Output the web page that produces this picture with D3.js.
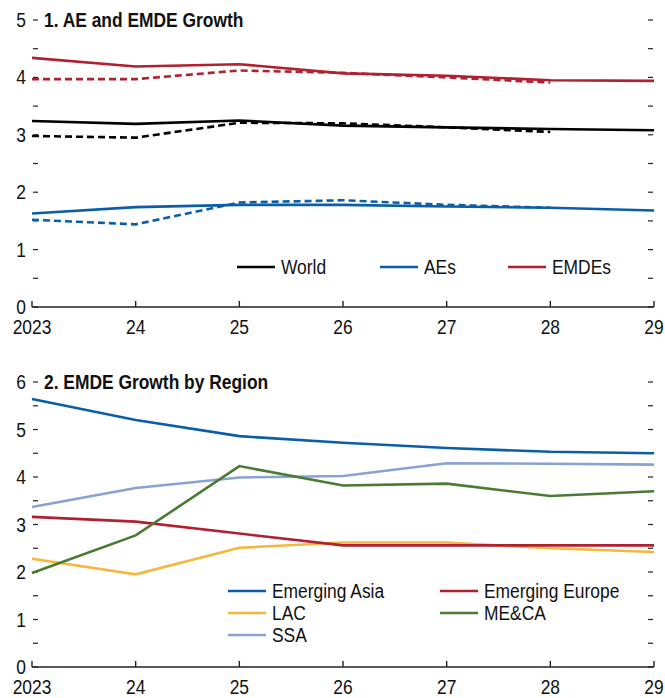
<!DOCTYPE html>
<html>
<head>
<meta charset="utf-8">
<script src="https://cdn.jsdelivr.net/npm/d3@7"></script>
<style>
  body { margin: 0; background: #fff; }
  text { font-family: "Liberation Sans", Arial, sans-serif; fill: #111; }
</style>
</head>
<body>
<div id="chart"></div>
<script>
'use strict';

// years on the x axis
var years = [2023, 2024, 2025, 2026, 2027, 2028, 2029];
var yearLabels = ["2023", "24", "25", "26", "27", "28", "29"];

// panel 1: current (solid) and previous (dashed) projections
var world = [3.24, 3.19, 3.25, 3.16, 3.13, 3.10, 3.08];
var worldPrev = [2.98, 2.95, 3.21, 3.20, 3.13, 3.05];
var aes = [1.63, 1.74, 1.78, 1.78, 1.75, 1.73, 1.68];
var aesPrev = [1.52, 1.44, 1.82, 1.86, 1.78, 1.73];
var emdes = [4.34, 4.19, 4.23, 4.07, 4.03, 3.95, 3.94];
var emdesPrev = [3.97, 3.97, 4.12, 4.08, 4.00, 3.91];

// panel 2: EMDE growth by region
var emAsia = [5.64, 5.20, 4.86, 4.72, 4.61, 4.53, 4.50];
var emEurope = [3.16, 3.06, 2.81, 2.56, 2.56, 2.56, 2.56];
var lac = [2.28, 1.95, 2.51, 2.62, 2.62, 2.50, 2.42];
var mecA = [1.98, 2.77, 4.23, 3.82, 3.86, 3.60, 3.70];
var ssa = [3.37, 3.77, 3.99, 4.02, 4.29, 4.28, 4.26];

var black = "#000000", blue = "#0a5ea8", red = "#b0202f",
    yellow = "#f4b83e", green = "#4b7a35", lightBlue = "#8aa2d3";

var W = 665, H = 698;
var squeeze = 0.87; // narrow the font to look condensed

var svg = d3.select("#chart").append("svg")
  .attr("width", W)
  .attr("height", H);

var x = d3.scaleLinear().domain([2023, 2029]).range([32, 654]);

function label(g, tx, ty, s, anchor, bold){
  return g.append("text")
    .attr("transform", "translate(" + tx + "," + ty + ") scale(" + squeeze + ",1)")
    .attr("text-anchor", anchor || "start")
    .style("font-size", "20px")
    .style("font-weight", bold ? "bold" : null)
    .text(s);
}

function panel(opts){
  var y = d3.scaleLinear().domain([0, opts.max]).range([opts.bottom, opts.top]);
  var g = svg.append("g");

  var ticks = d3.range(0, opts.max + 0.01, 0.5);

  // left and right ticks, pointing in
  g.selectAll(".lt").data(ticks).enter().append("line")
    .attr("x1", x.range()[0] + 1).attr("x2", x.range()[0] + 6)
    .attr("y1", d => y(d)).attr("y2", d => y(d))
    .attr("stroke", "#222").attr("stroke-width", 1.2);
  g.selectAll(".rt").data(ticks).enter().append("line")
    .attr("x1", x.range()[1] - 6).attr("x2", x.range()[1] - 1)
    .attr("y1", d => y(d)).attr("y2", d => y(d))
    .attr("stroke", "#222").attr("stroke-width", 1.2);
  ticks.filter(d => d % 1 === 0).forEach(function(d){
    label(g, 26, y(d) + 7, d, "end");
  });

  // x axis
  g.append("line")
    .attr("x1", x.range()[0]).attr("x2", x.range()[1])
    .attr("y1", y(0)).attr("y2", y(0))
    .attr("stroke", "#222").attr("stroke-width", 1.4);
  g.selectAll(".xt").data(years).enter().append("line")
    .attr("x1", d => x(d)).attr("x2", d => x(d))
    .attr("y1", y(0)).attr("y2", y(0) - 6)
    .attr("stroke", "#222").attr("stroke-width", 1.4);
  years.forEach(function(d, i){
    label(g, x(d), y(0) + 27, yearLabels[i], "middle");
  });

  // title
  label(g, 44, y(opts.max) + 7, opts.title, "start", true);

  var line = d3.line()
    .x((d, i) => x(years[i]))
    .y(d => y(d));

  opts.series.forEach(function(s){
    g.append("path")
      .attr("d", line(s.values))
      .attr("fill", "none")
      .attr("stroke", s.color)
      .attr("stroke-width", 2.6)
      .attr("stroke-dasharray", s.dashed ? "7,4" : null);
  });

  // legend
  opts.legend.forEach(function(l){
    g.append("line")
      .attr("x1", l.x).attr("x2", l.x + 38)
      .attr("y1", l.y).attr("y2", l.y)
      .attr("stroke", l.color).attr("stroke-width", 2.6);
    label(g, l.x + 44, l.y + 7, l.name);
  });
}

panel({
  title: "1. AE and EMDE Growth",
  max: 5, top: 20, bottom: 307,
  series: [
    {values: emdesPrev, color: red, dashed: true},
    {values: worldPrev, color: black, dashed: true},
    {values: aesPrev, color: blue, dashed: true},
    {values: emdes, color: red},
    {values: world, color: black},
    {values: aes, color: blue}
  ],
  legend: [
    {name: "World", color: black, x: 237, y: 267},
    {name: "AEs", color: blue, x: 380, y: 267},
    {name: "EMDEs", color: red, x: 508, y: 267}
  ]
});

panel({
  title: "2. EMDE Growth by Region",
  max: 6, top: 382, bottom: 667,
  series: [
    {values: ssa, color: lightBlue},
    {values: lac, color: yellow},
    {values: emEurope, color: red},
    {values: mecA, color: green},
    {values: emAsia, color: blue}
  ],
  legend: [
    {name: "Emerging Asia", color: blue, x: 228, y: 591},
    {name: "Emerging Europe", color: red, x: 440, y: 591},
    {name: "LAC", color: yellow, x: 228, y: 613},
    {name: "ME&CA", color: green, x: 440, y: 613},
    {name: "SSA", color: lightBlue, x: 228, y: 635}
  ]
});
</script>
</body>
</html>
